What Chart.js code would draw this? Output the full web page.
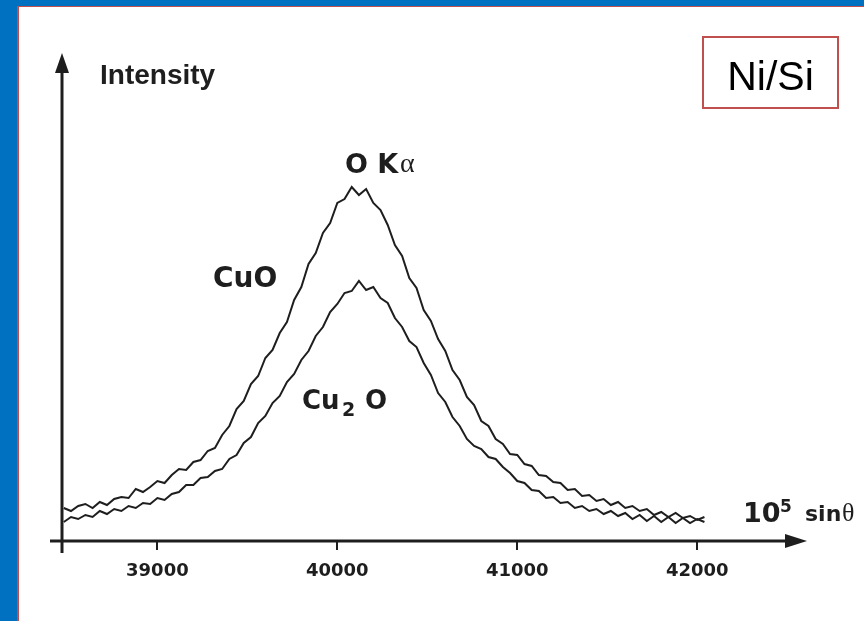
<!DOCTYPE html>
<html>
<head>
<meta charset="utf-8">
<script src="https://cdn.jsdelivr.net/npm/chart.js@4.4.0/dist/chart.umd.min.js"></script>
<style>
  body { margin: 0; background: #fff; }
  .page { position: relative; width: 864px; height: 621px; overflow: hidden; background: #fff; }
  canvas { position: absolute; left: 0; top: 0; }
  .lbl { position: absolute; line-height: 1; color: #1e1e1e; white-space: nowrap; }
  .dj { font-family: "DejaVu Sans", sans-serif; font-weight: bold; }
  .lib { font-family: "Liberation Sans", Arial, sans-serif; font-weight: bold; }
  .ser { font-family: "Liberation Serif", serif; font-weight: normal; }
  .frame { position: absolute; background: #0070C0; }
  .redline { position: absolute; background: #C0504D; }
  .box { position: absolute; left: 702px; top: 36px; width: 137px; height: 73px; box-sizing: border-box;
         border: 2px solid #C0504D; font-family: "Liberation Sans", Arial, sans-serif; font-size: 41px;
         line-height: 1; color: #000; text-align: center; padding-top: 18px; }
</style>
</head>
<body>
<div class="page">
  <canvas id="chart" width="864" height="621"></canvas>

  <div class="frame" style="left:0;top:0;width:864px;height:6px"></div>
  <div class="frame" style="left:0;top:0;width:17px;height:621px"></div>
  <div class="redline" style="left:17px;top:6px;width:847px;height:1px"></div>
  <div class="redline" style="left:17px;top:6px;width:1.5px;height:615px"></div>

  <div class="box">Ni/Si</div>

  <div class="lbl lib" style="left:100px;top:61px;font-size:28px">Intensity</div>
  <div class="lbl dj" style="left:345px;top:150px;font-size:27px">O K</div>
  <div class="lbl ser" style="left:400px;top:149px;font-size:28px">α</div>
  <div class="lbl dj" style="left:213px;top:264px;font-size:28px">CuO</div>
  <div class="lbl dj" style="left:302px;top:387px;font-size:26px">Cu</div>
  <div class="lbl dj" style="left:342px;top:400px;font-size:19px">2</div>
  <div class="lbl dj" style="left:365px;top:387px;font-size:26px">O</div>
  <div class="lbl dj" style="left:743px;top:499px;font-size:27px">10</div>
  <div class="lbl dj" style="left:780px;top:498px;font-size:17px">5</div>
  <div class="lbl dj" style="left:805px;top:503px;font-size:22px">sin</div>
  <div class="lbl ser" style="left:842px;top:500px;font-size:26px">θ</div>
</div>

<script>
// 10^5 sin(theta) positions
const xValues = [
  38480, 38520, 38560, 38600, 38640, 38680, 38720, 38760, 38800, 38840,
  38880, 38920, 38960, 39000, 39040, 39080, 39120, 39160, 39200, 39240,
  39280, 39320, 39360, 39400, 39440, 39480, 39520, 39560, 39600, 39640,
  39680, 39720, 39760, 39800, 39840, 39880, 39920, 39960, 40000, 40040,
  40080, 40120, 40160, 40200, 40240, 40280, 40320, 40360, 40400, 40440,
  40480, 40520, 40560, 40600, 40640, 40680, 40720, 40760, 40800, 40840,
  40880, 40920, 40960, 41000, 41040, 41080, 41120, 41160, 41200, 41240,
  41280, 41320, 41360, 41400, 41440, 41480, 41520, 41560, 41600, 41640,
  41680, 41720, 41760, 41800, 41840, 41880, 41920, 41960, 42000, 42040
];

// intensity (arbitrary units)
const cuoValues = [
  33, 30, 35, 37, 33, 39, 36, 42, 44, 43,
  52, 49, 54, 60, 58, 66, 72, 71, 79, 81,
  90, 93, 106, 115, 132, 140, 157, 165, 183, 191,
  208, 219, 241, 254, 277, 288, 308, 318, 338, 342,
  354, 346, 352, 338, 331, 316, 296, 285, 263, 253,
  231, 220, 202, 190, 171, 161, 144, 136, 120, 115,
  102, 97, 87, 86, 77, 75, 66, 65, 59, 58,
  51, 52, 45, 46, 40, 42, 36, 39, 33, 35,
  30, 32, 26, 29, 24, 28, 23, 25, 21, 24
];

const cu2oValues = [
  19, 24, 22, 26, 24, 30, 27, 32, 30, 35,
  33, 38, 37, 43, 41, 47, 49, 56, 56, 63,
  64, 70, 72, 82, 86, 98, 104, 118, 125, 138,
  145, 159, 167, 181, 190, 205, 214, 229, 237, 248,
  250, 260, 251, 254, 243, 238, 223, 214, 200, 194,
  178, 166, 148, 139, 124, 115, 102, 95, 92, 84,
  82, 74, 68, 60, 58, 51, 50, 43, 44, 38,
  39, 33, 35, 30, 32, 27, 30, 25, 28, 22,
  26, 20, 25, 19, 24, 18, 23, 18, 22, 19
];

const tickValues = [39000, 40000, 41000, 42000];

const ink = '#1e1e1e';

function toPoints(ys) {
  return xValues.map((x, i) => ({ x: x, y: ys[i] }));
}

// hand drawn style axes with arrow heads
const arrowAxes = {
  id: 'arrowAxes',
  afterDraw(chart) {
    const ctx = chart.ctx;
    const a = chart.chartArea;
    ctx.save();
    ctx.strokeStyle = ink;
    ctx.fillStyle = ink;
    ctx.lineWidth = 3;

    // y axis
    ctx.beginPath();
    ctx.moveTo(a.left, a.bottom + 12);
    ctx.lineTo(a.left, a.top + 15);
    ctx.stroke();
    ctx.beginPath();
    ctx.moveTo(a.left, a.top);
    ctx.lineTo(a.left - 7, a.top + 20);
    ctx.lineTo(a.left + 7, a.top + 20);
    ctx.closePath();
    ctx.fill();

    // x axis
    ctx.beginPath();
    ctx.moveTo(a.left - 12, a.bottom);
    ctx.lineTo(a.right - 15, a.bottom);
    ctx.stroke();
    ctx.beginPath();
    ctx.moveTo(a.right, a.bottom);
    ctx.lineTo(a.right - 22, a.bottom - 7);
    ctx.lineTo(a.right - 22, a.bottom + 7);
    ctx.closePath();
    ctx.fill();
    ctx.restore();
  }
};

new Chart(document.getElementById('chart'), {
  type: 'line',
  data: {
    datasets: [
      {
        label: 'CuO',
        data: toPoints(cuoValues),
        borderColor: ink,
        borderWidth: 2,
        pointRadius: 0,
        tension: 0,
        fill: false
      },
      {
        label: 'Cu2O',
        data: toPoints(cu2oValues),
        borderColor: ink,
        borderWidth: 2,
        pointRadius: 0,
        tension: 0,
        fill: false
      }
    ]
  },
  options: {
    responsive: false,
    animation: false,
    devicePixelRatio: 1,
    layout: { padding: { left: 62, right: 57, top: 53, bottom: 0 } },
    plugins: { legend: { display: false }, tooltip: { enabled: false } },
    scales: {
      x: {
        type: 'linear',
        min: 38470,
        max: 42610,
        afterBuildTicks: (scale) => {
          scale.ticks = tickValues.map(v => ({ value: v }));
        },
        afterFit: (scale) => { scale.height = 80; },
        grid: {
          drawOnChartArea: false,
          drawTicks: true,
          tickLength: 9,
          color: ink,
          lineWidth: 2
        },
        border: { display: false },
        ticks: {
          color: ink,
          padding: 11,
          maxRotation: 0,
          autoSkip: false,
          font: { family: 'DejaVu Sans', weight: 'bold', size: 18 },
          callback: (v) => String(v)
        }
      },
      y: {
        display: false,
        min: 0,
        max: 488
      }
    }
  },
  plugins: [arrowAxes]
});
</script>
</body>
</html>
